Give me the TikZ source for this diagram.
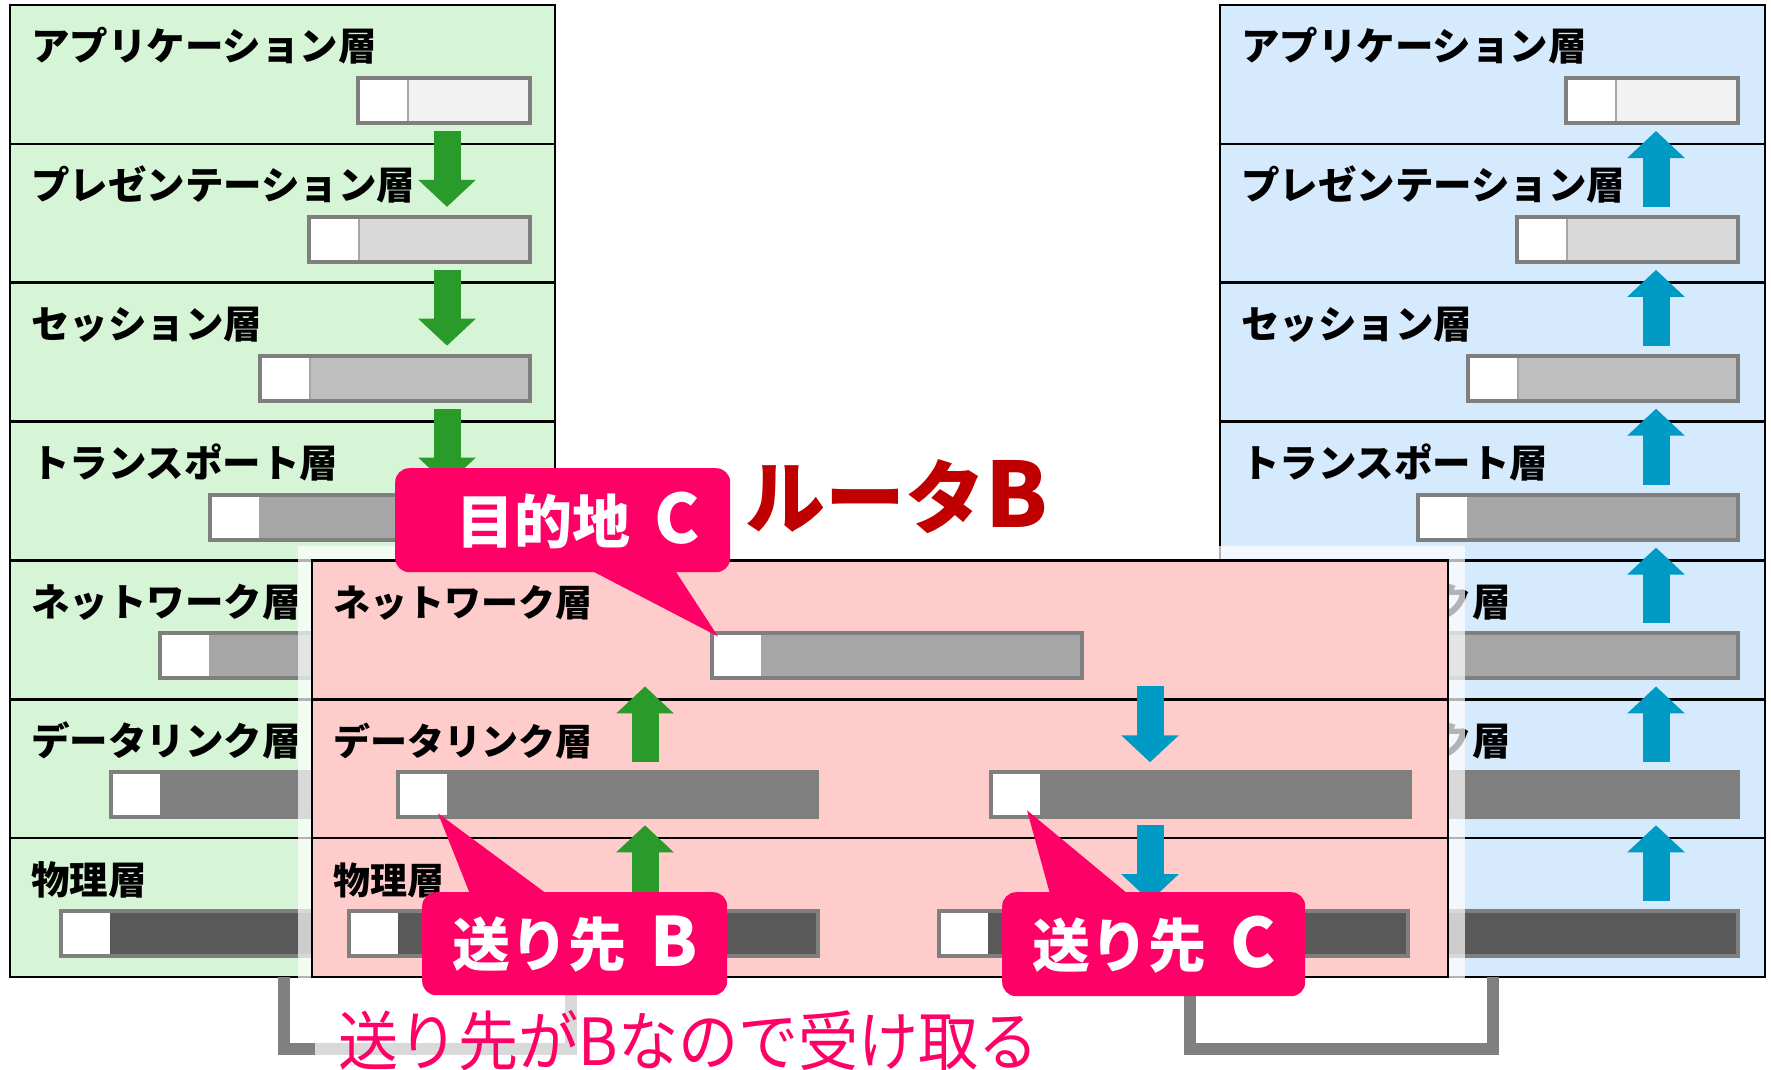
\documentclass[tikz,border=0pt]{standalone}
\usepackage{fontspec}
\newfontfamily\jp{Noto Sans CJK JP}
\usetikzlibrary{arrows.meta,calc}
\definecolor{gbg}{HTML}{D6F5D6}
\definecolor{bbg}{HTML}{D6EAFD}
\definecolor{pbg}{HTML}{FFCCCC}
\definecolor{cpink}{HTML}{FF0066}
\definecolor{dred}{HTML}{C00000}
\definecolor{agreen}{HTML}{2A9A2A}
\definecolor{ablue}{HTML}{009BC4}
\definecolor{bdr}{HTML}{7F7F7F}
\definecolor{g1}{HTML}{F2F2F2}
\definecolor{g2}{HTML}{D9D9D9}
\definecolor{g3}{HTML}{BFBFBF}
\definecolor{g4}{HTML}{A6A6A6}
\definecolor{g5}{HTML}{808080}
\definecolor{g6}{HTML}{595959}
\definecolor{divc}{HTML}{A6A6A6}
\pgfdeclarelayer{base}
\pgfsetlayers{base,main}
\tikzset{
  lrow/.style={draw=black, line width=2.5pt, minimum width=#1, minimum height=138.86pt,
    anchor=north west, inner sep=0pt, outer sep=0pt},
  lab/.style={anchor=base west, inner sep=0pt, font=\jp\bfseries\fontsize{38.5}{40}\selectfont},
  plab/.style={anchor=base west, inner sep=0pt, font=\jp\bfseries\fontsize{37}{40}\selectfont},
  barbox/.style={draw=bdr, line width=4pt, minimum height=45pt, anchor=north west,
    inner sep=0pt, outer sep=0pt},
  garr/.style={draw=agreen, line width=27pt, -{Triangle[width=56pt,length=27pt]}},
  barr/.style={draw=ablue, line width=27pt, -{Triangle[width=56pt,length=27pt]}},
  linkline/.style={draw=g5, line width=12pt},
  callbox/.style={fill=cpink, rounded corners=14pt, text=white, inner sep=0pt,
    anchor=north west, font=\jp\bfseries\fontsize{58}{60}\selectfont},
  veil/.style={fill=white, fill opacity=0.7},
}
% name, outer left, row top, outer width, fill, divider colour
\newcommand\mkbar[6]{%
  \pgfmathsetmacro\mbw{#4-4}%
  \node[barbox, minimum width=\mbw pt, fill=#5] (#1) at (#2+2,#3+73) {};
  \fill[white] ($(#1.north west)+(2,2)$) rectangle ($(#1.south west)+(49,-2)$);
  \draw[#6, line width=1.5pt] ($(#1.north west)+(50,2)$) -- ($(#1.south west)+(50,-2)$);
}
\begin{document}
\begin{tikzpicture}[x=1pt,y=-1pt]
\useasboundingbox (0,0) rectangle (1771,1070);
\coordinate (gx) at (447,0);
\coordinate (bx) at (1656,0);
\coordinate (pgx) at (645,0);
\coordinate (pbx) at (1150,0);
\coordinate (k1) at (284,1049);
\coordinate (k2) at (571,1049);
\coordinate (k3) at (1190,1049);
\coordinate (k4) at (1493,1049);

\begin{pgfonlayer}{base}
% left stack (sender)
\foreach \i/\tx/\w/\cl/\dv in {0/アプリケーション層/176/g1/divc,
    1/プレゼンテーション層/225/g2/divc, 2/セッション層/274/g3/divc,
    3/トランスポート層/324/g4/divc, 4/ネットワーク層/374/g4/divc,
    5/データリンク層/423/g5/g5, 6/物理層/473/g6/g6}{
  \pgfmathsetmacro\ty{5+138.857*\i}
  \node[lrow=545pt, fill=gbg] (L\i) at (10,\ty) {};
  \node[lab] (Lt\i) at (31,\ty+56) {\tx};
  \pgfmathsetmacro\bl{532-\w}
  \mkbar{Lb\i}{\bl}{\ty}{\w}{\cl}{\dv}
}
\foreach \k in {0,1,2,3}{
  \pgfmathtruncatemacro\kk{\k+1}
  \draw[garr] ($(Lb\k.south -| gx)+(0,8)$) -- ($(Lb\kk.north -| gx)+(0,-10)$);
}
% right stack (receiver)
\foreach \i/\tx/\w/\cl/\dv in {0/アプリケーション層/176/g1/divc,
    1/プレゼンテーション層/225/g2/divc, 2/セッション層/274/g3/divc,
    3/トランスポート層/324/g4/divc, 4/ネットワーク層/374/g4/divc,
    5/データリンク層/423/g5/g5, 6/物理層/473/g6/g6}{
  \pgfmathsetmacro\ty{5+138.857*\i}
  \node[lrow=545pt, fill=bbg] (R\i) at (1220,\ty) {};
  \node[lab] (Rt\i) at (1241,\ty+56) {\tx};
  \pgfmathsetmacro\bl{1740-\w}
  \mkbar{Rb\i}{\bl}{\ty}{\w}{\cl}{\dv}
}
\foreach \k in {0,...,5}{
  \pgfmathtruncatemacro\kk{\k+1}
  \draw[barr] ($(Rb\kk.north -| bx)+(0,-10)$) -- ($(Rb\k.south -| bx)+(0,8)$);
}
\end{pgfonlayer}

% veil around router B
\fill[veil] (298,546) rectangle (1465,992);

% router B
\foreach \i/\tx in {4/ネットワーク層, 5/データリンク層, 6/物理層}{
  \pgfmathsetmacro\ty{5+138.857*\i}
  \node[lrow=1136pt, fill=pbg] (P\i) at (312,\ty) {};
  \node[plab] (Pt\i) at (333,\ty+56) {\tx};
}
\mkbar{Pb4}{710}{560.43}{374}{g4}{divc}
\mkbar{Pb5a}{396}{699.29}{423}{g5}{g5}
\mkbar{Pb5b}{989}{699.29}{423}{g5}{g5}
\mkbar{Pb6a}{347}{838.14}{473}{g6}{g6}
\mkbar{Pb6b}{937}{838.14}{473}{g6}{g6}
\draw[garr] ($(Pb5a.north -| pgx)+(0,-10)$) -- ($(Pb4.south -| pgx)+(0,8)$);
\draw[garr] ($(Pb6a.north -| pgx)+(0,-10)$) -- ($(Pb5a.south -| pgx)+(0,8)$);
\draw[barr] ($(Pb4.south -| pbx)+(0,8)$) -- ($(Pb5b.north -| pbx)+(0,-10)$);
\draw[barr] ($(Pb5b.south -| pbx)+(0,8)$) -- ($(Pb6b.north -| pbx)+(0,-10)$);

% cables
\begin{pgfonlayer}{base}
\draw[linkline] (L6.south -| k1) -- (k1) -- (k2) -- (P6.south -| k2);
\draw[linkline] (P6.south -| k3) -- (k3) -- (k4) -- (R6.south -| k4);
\end{pgfonlayer}

% note
\fill[veil] (315,993) rectangle (1045,1070);
\node[anchor=base west, inner sep=0pt, text=cpink, font=\jp\fontsize{65}{65}\selectfont]
  (note) at (338,1065) {\scalebox{0.925}[1]{送り先がBなので受け取る}};

% callouts
\node[callbox, minimum width=335pt, minimum height=104pt] (c1) at (395,468)
  {\kern30pt 目的地\hspace{24pt}{\fontsize{68}{68}\selectfont C}};
\fill[cpink] ($(c1.south west)+(196,-2)$) -- ($(Pb4.north west)+(6,3)$)
  -- ($(c1.south west)+(280,-2)$) -- cycle;
\node[callbox, minimum width=305pt, minimum height=103pt] (c2) at (422,892)
  {送り先\hspace{24pt}{\fontsize{68}{68}\selectfont B}};
\fill[cpink] ($(c2.north west)+(48,2)$) -- ($(Pb5a.south west)+(40,-4)$)
  -- ($(c2.north west)+(125,2)$) -- cycle;
\node[callbox, minimum width=303pt, minimum height=104pt] (c3) at (1002,892)
  {送り先\hspace{24pt}{\fontsize{68}{68}\selectfont C}};
\fill[cpink] ($(c3.north west)+(48,2)$) -- ($(Pb5b.south west)+(36,-7)$)
  -- ($(c3.north west)+(126,2)$) -- cycle;

% title
\node[anchor=base west, inner sep=0pt, text=dred, font=\jp\bfseries\fontsize{80}{80}\selectfont]
  (rb) at (745,527) {ルータ{\fontsize{90}{90}\selectfont B}};
\end{tikzpicture}
\end{document}
